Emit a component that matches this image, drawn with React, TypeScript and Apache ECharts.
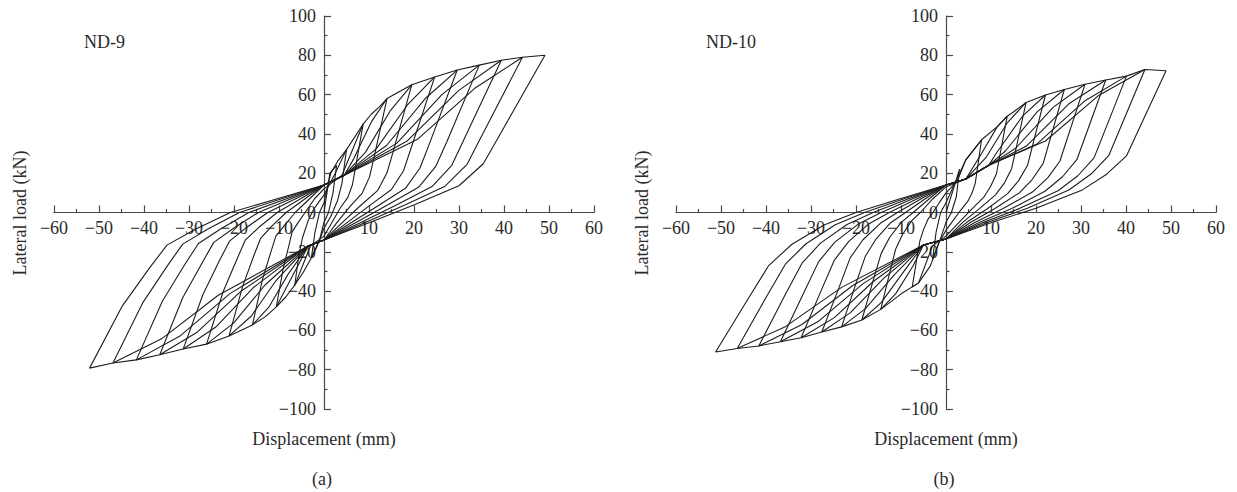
import React, { useEffect, useRef } from 'react';
import * as echarts from 'echarts';

const X_MIN = -60, X_MAX = 60, X_STEP = 10;
const Y_MIN = -100, Y_MAX = 100, Y_STEP = 20;
const panelTitles = ['ND-9', 'ND-10'];
const panelTags = ['(a)', '(b)'];
const xName = 'Displacement (mm)';
const yName = 'Lateral load (kN)';

// ND-9 hysteresis loops (displacement mm, load kN)
const nd9Cycle1 = [[0,0],[1.3,20],[2.8,24],[2,10],[1,0],[0,-5],[-1,-14],[-2.8,-23],[-2,-10],[-1,0],[0,5]];
const nd9Cycle2 = [[0,5],[1.5,20],[3,26],[5,32],[4,15],[3,6],[1.5,-2],[0,-8],[-1.5,-17],[-2.8,-23],[-4.5,-30],[-6.5,-37],[-5.6,-22],[-4.8,-13],[-3.5,-4],[-2.2,2],[0,9]];
const nd9Cycle3 = [[0,9],[2.5,20],[5,32],[7,39],[8.7,45],[6.9,21.6],[6.3,14],[5.3,7.7],[3.6,2.3],[1.8,-5],[0,-12],[-3,-17],[-6.5,-37],[-8.5,-43],[-10.6,-48],[-9.1,-28.8],[-7.8,-16.8],[-7.1,-10],[-5.8,-5.3],[-4.2,0],[-2.1,7],[0,12]];
const nd9Cycle4 = [[0,12],[4,19],[8.7,45],[10.5,50],[12.4,54],[14,58],[11.1,27.8],[10.1,18],[8.5,9.9],[5.7,2.9],[2.9,-5],[0,-14],[-3.5,-17],[-10.6,-48],[-13,-53],[-15.9,-57.2],[-13.7,-34.3],[-11.8,-20],[-10.7,-12],[-8.7,-6.3],[-6.4,0],[-3.2,7],[0,14]];
const nd9Cycle5 = [[0,14],[4.5,19],[6.6,27.3],[10.6,46.4],[14,58],[19.5,65],[15.4,31.2],[14,20.2],[11.9,11.1],[8,3.3],[4.1,-5],[0,-14],[-3.5,-17],[-8,-31.5],[-12.2,-48],[-15.9,-57.2],[-21.1,-62.8],[-18.1,-37.7],[-15.6,-22],[-14.1,-13.2],[-11.6,-6.9],[-8.4,0],[-4.2,7],[0,14]];
const nd9Cycle6 = [[0,14],[4.5,19],[9.2,30.6],[14.8,52],[19.5,65],[24.6,69],[19.4,33.1],[17.7,21.4],[15,11.7],[10.1,3.5],[5.2,-5],[0,-14],[-3.5,-17],[-10.6,-34.5],[-16.2,-52.8],[-21.1,-62.8],[-26.1,-67],[-22.4,-40.2],[-19.3,-23.5],[-17.5,-14.1],[-14.4,-7.4],[-10.4,0],[-5.2,7],[0,14]];
const nd9Cycle7 = [[0,14],[4.5,19],[11.6,32.4],[18.7,55.2],[24.6,69],[29.6,72.5],[23.4,34.8],[21.3,22.5],[18.1,12.3],[12.1,3.6],[6.2,-5],[0,-14],[-3.5,-17],[-13.1,-36.9],[-20.1,-56.3],[-26.1,-67],[-31.3,-69.5],[-26.9,-41.7],[-23.2,-24.3],[-21,-14.6],[-17.2,-7.6],[-12.5,0],[-6.3,7],[0,14]];
const nd9Cycle8 = [[0,14],[4.5,19],[13.9,34.1],[22.5,58],[29.6,72.5],[34.5,75],[27.3,36],[24.8,23.3],[21,12.8],[14.1,3.8],[7.2,-5],[0,-14],[-3.5,-17],[-15.7,-38.2],[-24.1,-58.4],[-31.3,-69.5],[-36.5,-72.4],[-31.4,-43.4],[-27,-25.3],[-24.5,-15.2],[-20.1,-8],[-14.6,0],[-7.3,7],[0,14]];
const nd9Cycle9 = [[0,14],[4.5,19],[16.2,35.3],[26.2,60],[34.5,75],[39.4,77.5],[31.1,37.2],[28.4,24],[24,13.2],[16.2,3.9],[8.3,-5],[0,-14],[-3.5,-17],[-18.3,-39.8],[-28.1,-60.8],[-36.5,-72.4],[-41.7,-75],[-35.9,-45],[-30.9,-26.3],[-27.9,-15.8],[-22.9,-8.3],[-16.7,0],[-8.3,7],[0,14]];
const nd9Cycle10 = [[0,14],[4.5,19],[18.5,36.4],[29.9,62],[39.4,77.5],[44.1,79],[34.8,37.9],[31.8,24.5],[26.9,13.4],[18.1,4],[9.3,-5],[0,-14],[-3.5,-17],[-20.9,-41.3],[-32.1,-63],[-41.7,-75],[-46.9,-76.6],[-40.3,-46],[-34.7,-26.8],[-31.4,-16.1],[-25.8,-8.4],[-18.8,0],[-9.4,7],[0,14]];
const nd9Cycle11 = [[0,14],[4.5,19],[20.7,37.1],[33.5,63.2],[44.1,79],[49.1,80],[38.8,38.4],[35.4,24.8],[30,13.6],[20.1,4],[10.3,-5],[0,-14],[-3.5,-17],[-23.5,-42.1],[-36.1,-64.3],[-46.9,-76.6],[-52.1,-79.2],[-44.8,-47.5],[-38.6,-27.7],[-34.9,-16.6],[-28.7,-8.7],[-20.8,0],[-10.4,7],[0,14]];

// ND-10 hysteresis loops
const nd10Cycle1 = [[0,0],[1.8,13],[3,22],[2.3,8],[1.2,0],[0,-5],[-1.3,-13.8],[-3,-24],[-2.2,-10],[-1.2,0],[0,5]];
const nd10Cycle2 = [[0,5],[1.8,14],[4.4,26.8],[7.9,37],[6.5,14.8],[5.8,10],[4.9,5.9],[3.2,1],[1.6,-4],[0,-9],[-1.5,-15],[-3.5,-27.3],[-6.1,-35.8],[-7.5,-38],[-6.5,-23.6],[-5.8,-14.4],[-5,-8.7],[-4,-3.4],[-2.9,0],[-1.5,5],[0,10]];
const nd10Cycle3 = [[0,10],[2.5,16],[4.4,26.8],[7.9,37],[11.4,43.7],[13.6,49],[11.2,19.6],[9.9,13.2],[8.4,7.8],[5.6,1.5],[2.9,-5],[0,-12],[-3,-17],[-6.1,-35.8],[-9.6,-40.8],[-12,-45],[-14.5,-49.3],[-12.5,-30.6],[-11.2,-18.7],[-9.7,-11.3],[-7.7,-4.4],[-5.7,0],[-2.9,7],[0,13]];
const nd10Cycle4 = [[0,13],[4.4,17],[7.9,30],[11.4,43.7],[13.6,49],[14.9,51],[17.8,56],[14.6,22.4],[13,15.1],[11,9],[7.3,1.7],[3.7,-5],[0,-13.5],[-5,-16.5],[-7.3,-27.1],[-11.2,-41.4],[-14.5,-49.3],[-18.7,-54.7],[-16.1,-33.9],[-14.4,-20.8],[-12.5,-12.6],[-9.9,-4.9],[-7.3,0],[-3.7,7],[0,14]];
const nd10Cycle5 = [[0,14],[4.4,17],[8.9,28],[13.7,45.9],[17.8,56],[22.1,59.8],[18.1,23.9],[16.1,16.1],[13.7,9.6],[9.1,1.8],[4.6,-5],[0,-13.5],[-5,-16.5],[-9.4,-30.1],[-14.4,-45.9],[-18.7,-54.7],[-23.2,-58.2],[-20,-36.1],[-17.9,-22.1],[-15.5,-13.4],[-12.3,-5.2],[-9,0],[-4.6,7],[0,14]];
const nd10Cycle6 = [[0,14],[4.4,17],[9.5,24],[11.1,29.9],[17,49],[22.1,59.8],[26.3,62.6],[21.6,25],[19.2,16.9],[16.3,10],[10.8,1.9],[5.5,-5],[0,-13.5],[-5,-16.5],[-11.6,-32],[-17.9,-48.9],[-23.2,-58.2],[-27.6,-60.8],[-23.7,-37.7],[-21.3,-23.1],[-18.5,-14],[-14.6,-5.5],[-10.8,0],[-5.5,7],[0,14]];
const nd10Cycle7 = [[0,14],[4.4,17],[9.5,24],[13.2,31.3],[20.3,51.3],[26.3,62.6],[30.9,65.3],[25.3,26.1],[22.6,17.6],[19.2,10.4],[12.7,2],[6.5,-5],[0,-13.5],[-5,-16.5],[-13.8,-33.4],[-21.3,-51.1],[-27.6,-60.8],[-32.2,-63.7],[-27.7,-39.5],[-24.8,-24.2],[-21.6,-14.7],[-17.1,-5.7],[-12.6,0],[-6.4,7],[0,14]];
const nd10Cycle8 = [[0,14],[4.4,17],[9.5,24],[15.5,32.7],[23.8,53.5],[30.9,65.3],[35.5,67.4],[29.1,27],[25.9,18.2],[22,10.8],[14.6,2],[7.5,-5],[0,-13.5],[-5,-16.5],[-16.1,-35],[-24.8,-53.5],[-32.2,-63.7],[-36.8,-65.8],[-31.6,-40.8],[-28.3,-25],[-24.7,-15.1],[-19.5,-5.9],[-14.4,0],[-7.4,7],[0,14]];
const nd10Cycle9 = [[0,14],[4.4,17],[9.5,24],[17.8,33.7],[27.3,55.3],[35.5,67.4],[40.1,69.4],[32.9,27.8],[29.3,18.7],[24.9,11.1],[16.4,2.1],[8.4,-5],[0,-13.5],[-5,-16.5],[-18.4,-36.2],[-28.3,-55.3],[-36.8,-65.8],[-41.6,-67.9],[-35.8,-42.1],[-32,-25.8],[-27.9,-15.6],[-22,-6.1],[-16.2,0],[-8.3,7],[0,14]];
const nd10Cycle10 = [[0,14],[4.4,17],[9.5,24],[20.1,34.7],[30.9,56.9],[40.1,69.4],[44.2,72.8],[36.2,29.1],[32.3,19.7],[27.4,11.6],[18.1,2.2],[9.3,-5],[0,-13.5],[-5,-16.5],[-20.8,-37.3],[-32,-57],[-41.6,-67.9],[-46.4,-69.2],[-39.9,-42.9],[-35.7,-26.3],[-31.1,-15.9],[-24.6,-6.2],[-18.1,0],[-9.3,7],[0,14]];
const nd10Cycle11 = [[0,14],[4.4,17],[9.5,24],[22.1,36.4],[34,59.7],[44.2,72.8],[48.9,72.1],[40.1,28.8],[35.7,19.5],[30.3,11.5],[20,2.2],[10.3,-5],[0,-13.5],[-5,-16.5],[-23.2,-38.1],[-35.7,-58.1],[-46.4,-69.2],[-51.2,-71],[-44,-44],[-39.4,-27],[-34.3,-16.3],[-27.1,-6.4],[-20,0],[-10.2,7],[0,14]];

const nd9Cycles = [nd9Cycle1, nd9Cycle2, nd9Cycle3, nd9Cycle4, nd9Cycle5, nd9Cycle6, nd9Cycle7, nd9Cycle8, nd9Cycle9, nd9Cycle10, nd9Cycle11];
const nd10Cycles = [nd10Cycle1, nd10Cycle2, nd10Cycle3, nd10Cycle4, nd10Cycle5, nd10Cycle6, nd10Cycle7, nd10Cycle8, nd10Cycle9, nd10Cycle10, nd10Cycle11];
const panels = [nd9Cycles, nd10Cycles];

const FONT = 'Liberation Serif';
const AXIS_COLOR = '#4a4a4a';
const TEXT_COLOR = '#2a2a2a';
const LINE_COLOR = '#1c1c1c';
const FS = 18;

const fmt = (v: number) => (v < 0 ? '\u2212' + Math.abs(v) : String(v));

export default function App() {
  const ref = useRef<HTMLDivElement>(null);
  useEffect(() => {
    if (!ref.current) return;
    const chart = echarts.init(ref.current, undefined, { renderer: 'svg' });
    const lefts = [54, 676];
    const top = 16, height = 393, width = 540;
    const grids = lefts.map((l) => ({ left: l, top, width, height }));
    const xAxes = lefts.map((_, i) => ({
      gridIndex: i, type: 'value', min: X_MIN, max: X_MAX, interval: X_STEP,
      position: 'bottom', offset: -height / 2,
      axisLine: { onZero: false, lineStyle: { color: AXIS_COLOR, width: 1.2 } },
      axisTick: { inside: true, length: 7, lineStyle: { color: AXIS_COLOR, width: 1.2 } },
      minorTick: { show: true, splitNumber: 2, length: 3.5, lineStyle: { color: AXIS_COLOR, width: 1.2 } },
      splitLine: { show: false },
      axisLabel: {
        color: TEXT_COLOR, fontFamily: FONT, fontSize: FS, margin: 6,
        showMinLabel: true, showMaxLabel: true,
        formatter: (v: number) => (v === 0 ? '' : fmt(v)),
      },
    }));
    const yAxes = lefts.map((_, i) => ({
      gridIndex: i, type: 'value', min: Y_MIN, max: Y_MAX, interval: Y_STEP,
      position: 'left', offset: -width / 2,
      axisLine: { onZero: false, lineStyle: { color: AXIS_COLOR, width: 1.2 } },
      axisTick: { inside: true, length: 7, lineStyle: { color: AXIS_COLOR, width: 1.2 } },
      minorTick: { show: true, splitNumber: 2, length: 3.5, lineStyle: { color: AXIS_COLOR, width: 1.2 } },
      splitLine: { show: false },
      axisLabel: {
        color: TEXT_COLOR, fontFamily: FONT, fontSize: FS, margin: 8,
        showMinLabel: true, showMaxLabel: true,
        formatter: (v: number) => fmt(v),
      },
    }));
    const series: any[] = [];
    panels.forEach((cycles, i) => {
      cycles.forEach((c) => {
        series.push({
          type: 'line', xAxisIndex: i, yAxisIndex: i, data: c,
          showSymbol: false, symbol: 'none', silent: true,
          lineStyle: { color: LINE_COLOR, width: 1.1 },
        });
      });
    });
    const textStyle = (text: string, align: string) => ({
      text, fill: TEXT_COLOR, fontFamily: FONT, fontSize: FS,
      textAlign: align, textVerticalAlign: 'middle',
    });
    const graphic: any[] = [];
    lefts.forEach((l, i) => {
      const cx = l + width / 2;
      graphic.push({ type: 'text', x: l + 30, y: 42, style: textStyle(panelTitles[i], 'left') });
      graphic.push({ type: 'text', x: cx, y: 439, style: textStyle(xName, 'center') });
      graphic.push({ type: 'text', x: cx - 2, y: 479, style: textStyle(panelTags[i], 'center') });
      graphic.push({ type: 'text', x: l - 34, y: 213, rotation: Math.PI / 2, style: textStyle(yName, 'center') });
    });
    chart.setOption({
      animation: false,
      grid: grids,
      xAxis: xAxes,
      yAxis: yAxes,
      series,
      graphic,
    });
    return () => chart.dispose();
  }, []);
  return (
    <div
      ref={ref}
      style={{ position: 'fixed', left: 0, top: 0, width: 1237, height: 492, background: '#fff' }}
    />
  );
}
